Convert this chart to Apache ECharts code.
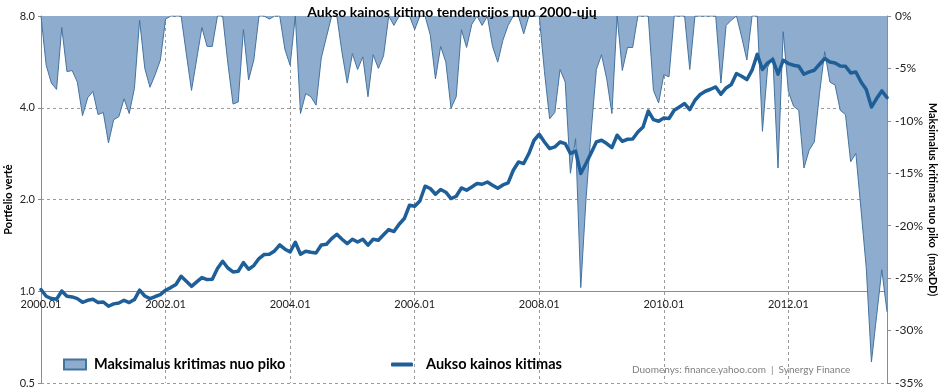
<!DOCTYPE html>
<html>
<head>
<meta charset="utf-8">
<script src="https://cdn.jsdelivr.net/npm/echarts/dist/echarts.min.js"></script>
<style>
html,body{margin:0;padding:0;background:#fff;}
#chart{width:941px;height:389px;}
</style>
</head>
<body>
<div id="chart"></div>
<script>
// Monthly categories 2000.01 .. 2013.08
const startYear = 2000;
const monthCount = 164;
const categories = [];
for (let i = 0; i < monthCount; i++) {
  const y = startYear + Math.floor(i / 12);
  const m = (i % 12) + 1;
  categories.push(y + '.' + (m < 10 ? '0' + m : m));
}

// Gold price index (portfolio value, start = 1.0)
const goldIndex = [
1.013,0.963,0.946,0.941,1.002,0.963,0.958,0.946,0.920,0.934,
0.941,0.918,0.922,0.893,0.909,0.915,0.934,0.918,0.939,1.008,
0.965,0.946,0.961,0.975,1.008,1.028,1.052,1.120,1.079,1.038,
1.073,1.109,1.092,1.095,1.187,1.254,1.192,1.157,1.163,1.242,
1.181,1.214,1.280,1.320,1.322,1.356,1.419,1.374,1.346,1.448,
1.322,1.353,1.343,1.336,1.419,1.426,1.489,1.538,1.481,1.434,
1.481,1.451,1.481,1.416,1.481,1.470,1.532,1.594,1.570,1.659,
1.732,1.915,1.900,1.978,2.211,2.173,2.081,2.156,2.113,2.014,
2.050,2.182,2.145,2.199,2.256,2.244,2.283,2.227,2.177,2.233,
2.267,2.494,2.656,2.624,2.830,3.129,3.274,3.089,2.939,2.975,
3.089,3.052,2.830,2.886,2.433,2.624,2.843,3.089,3.129,3.052,
2.961,3.250,3.105,3.153,3.160,3.331,3.459,3.904,3.659,3.612,
3.703,3.687,3.925,4.024,4.129,3.946,4.233,4.420,4.531,4.600,
4.681,4.430,4.646,4.767,5.180,5.075,4.950,5.311,5.992,5.339,
5.611,5.757,5.152,5.727,5.586,5.515,5.473,5.152,5.243,5.311,
5.557,5.801,5.654,5.611,5.486,5.473,5.204,5.243,4.861,4.590,
4.024,4.288,4.541,4.321
];

// Maximum drawdown from peak, %
const maxDrawdown = [
0,-4.7,-6.4,-7.0,-1.1,-5.3,-5.2,-6.3,-9.5,-7.8,
-7.2,-9.4,-9.2,-12.1,-9.9,-9.6,-7.9,-9.3,-6.9,-0.4,
-5.0,-6.8,-5.6,-4.2,-0.3,0,0,0,-3.6,-7.1,
-4.1,-1.1,-2.9,-2.9,0,0,-4.5,-8.4,-8.2,-1.3,
-6.1,-4.2,0,0,-0.3,0,0,-3.2,-4.7,0,
-9.3,-7.4,-7.7,-8.5,-4.0,-2.0,0,0,-3.5,-6.4,
-3.6,-5.1,-3.9,-7.7,-3.7,-5.0,-3.8,0,-0.9,0,
0,0,-1.3,0,0,-1.8,-6.0,-2.9,-4.4,-8.8,
-7.7,-1.3,-3.0,-0.8,0,-0.9,0,-2.9,-4.4,-2.3,
-0.9,0,0,-1.7,0,0,0,-5.3,-9.8,-9.2,
-5.1,-6.3,-15.0,-11.7,-25.9,-17.5,-11.0,-5.1,-3.7,-6.0,
-9.3,0,-5.2,-3.0,-3.0,0,0,0,-7.1,-8.3,
-5.6,-5.8,0,0,0,-5.1,0,0,0,0,
0,-6.4,-0.9,-0.4,0,-2.0,-4.2,0,0,-11.0,
-4.9,-3.9,-14.5,-1.5,-7.2,-8.6,-9.0,-14.5,-12.8,-12.0,
-7.4,-3.4,-6.3,-6.6,-9.0,-9.4,-13.9,-13.1,-18.5,-24.0,
-33.0,-28.6,-24.2,-28.2
];

const titleText = 'Aukso kainos kitimo tendencijos nuo 2000-ųjų';
const seriesNames = ['Maksimalus kritimas nuo piko', 'Aukso kainos kitimas'];
const leftAxisName = 'Portfelio vertė';
const rightAxisName = 'Maksimalus kritimas nuo piko  (maxDD)';
const sourceText = 'Duomenys: finance.yahoo.com  |  Synergy Finance';

const FONT = 'Lato, "Noto Sans", sans-serif';
const gridColor = '#9a9a9a';
const axisColor = '#8c8c8c';

const chart = echarts.init(document.getElementById('chart'), null, {renderer: 'canvas'});
chart.setOption({
  animation: false,
  backgroundColor: '#fff',
  textStyle: {fontFamily: FONT},
  title: {
    text: titleText,
    left: 447, top: 0, textAlign: 'center',
    textStyle: {fontFamily: FONT, fontSize: 14, fontWeight: 'bold', color: '#000'}
  },
  legend: [
    {
      data: [{name: seriesNames[0], icon: 'rect'}],
      left: 58, top: 352,
      itemWidth: 22, itemHeight: 10,
      textStyle: {fontFamily: FONT, fontSize: 14.5, fontWeight: 'bold', color: '#000', padding: [0,0,0,3]},
      selectedMode: false
    },
    {
      data: [{name: seriesNames[1], icon: 'roundRect', itemStyle: {color: '#1f5f99', borderWidth: 0}}],
      left: 386, top: 352,
      itemWidth: 22, itemHeight: 4,
      textStyle: {fontFamily: FONT, fontSize: 14.5, fontWeight: 'bold', color: '#000', padding: [0,0,0,8]},
      selectedMode: false
    }
  ],
  graphic: [{
    type: 'text', left: 632, top: 365,
    style: {text: sourceText, fill: '#7f7f7f', font: '10px ' + FONT}
  }],
  grid: {left: 41, right: 54, top: 16, bottom: 6, containLabel: false, outerBoundsMode: 'none'},
  xAxis: {
    type: 'category',
    data: categories,
    boundaryGap: false,
    position: 'bottom',
    offset: -92,
    axisLine: {show: true, onZero: false, lineStyle: {color: axisColor, width: 1}},
    axisTick: {show: false},
    axisLabel: {interval: 23, color: '#222', fontSize: 11, fontFamily: FONT, margin: 8},
    splitLine: {show: true, interval: 23, lineStyle: {color: gridColor, type: [3, 3], width: 1}}
  },
  yAxis: [
    {
      type: 'log', logBase: 2, min: 0.5, max: 8, splitNumber: 4,
      position: 'left',
      name: leftAxisName, nameLocation: 'middle', nameGap: 27, nameRotate: 90,
      nameMoveOverlap: false,
      nameTextStyle: {fontFamily: FONT, fontSize: 11, fontWeight: 'bold', color: '#000'},
      axisLine: {show: true, lineStyle: {color: axisColor}},
      axisTick: {show: true, length: 3, lineStyle: {color: axisColor}},
      axisLabel: {formatter: v => Number(v).toFixed(1), color: '#222', fontSize: 11, fontFamily: FONT, margin: 6},
      splitLine: {show: true, lineStyle: {color: gridColor, type: [3, 3], width: 1}}
    },
    {
      type: 'value', min: -35, max: 0, interval: 5,
      position: 'right',
      name: rightAxisName, nameLocation: 'middle', nameGap: 40, nameRotate: -90,
      nameMoveOverlap: false,
      nameTextStyle: {fontFamily: FONT, fontSize: 11, fontWeight: 'bold', color: '#000'},
      axisLine: {show: true, lineStyle: {color: axisColor}},
      axisTick: {show: true, length: 4, lineStyle: {color: axisColor}},
      axisLabel: {formatter: v => v + '%', color: '#222', fontSize: 12, fontFamily: FONT, margin: 8},
      splitLine: {show: false}
    }
  ],
  series: [
    {
      name: seriesNames[0],
      type: 'line',
      yAxisIndex: 1,
      data: maxDrawdown,
      symbol: 'none',
      lineStyle: {color: '#44739f', width: 1},
      itemStyle: {color: '#8eacce', borderColor: '#44739f', borderWidth: 1},
      areaStyle: {color: '#8eacce', opacity: 1},
      z: 2
    },
    {
      name: seriesNames[1],
      type: 'line',
      yAxisIndex: 0,
      data: goldIndex,
      symbol: 'none',
      lineStyle: {color: '#1f5f99', width: 3.5, join: 'round', cap: 'round'},
      itemStyle: {color: '#1f5f99'},
      z: 3
    }
  ]
});
</script>
</body>
</html>
